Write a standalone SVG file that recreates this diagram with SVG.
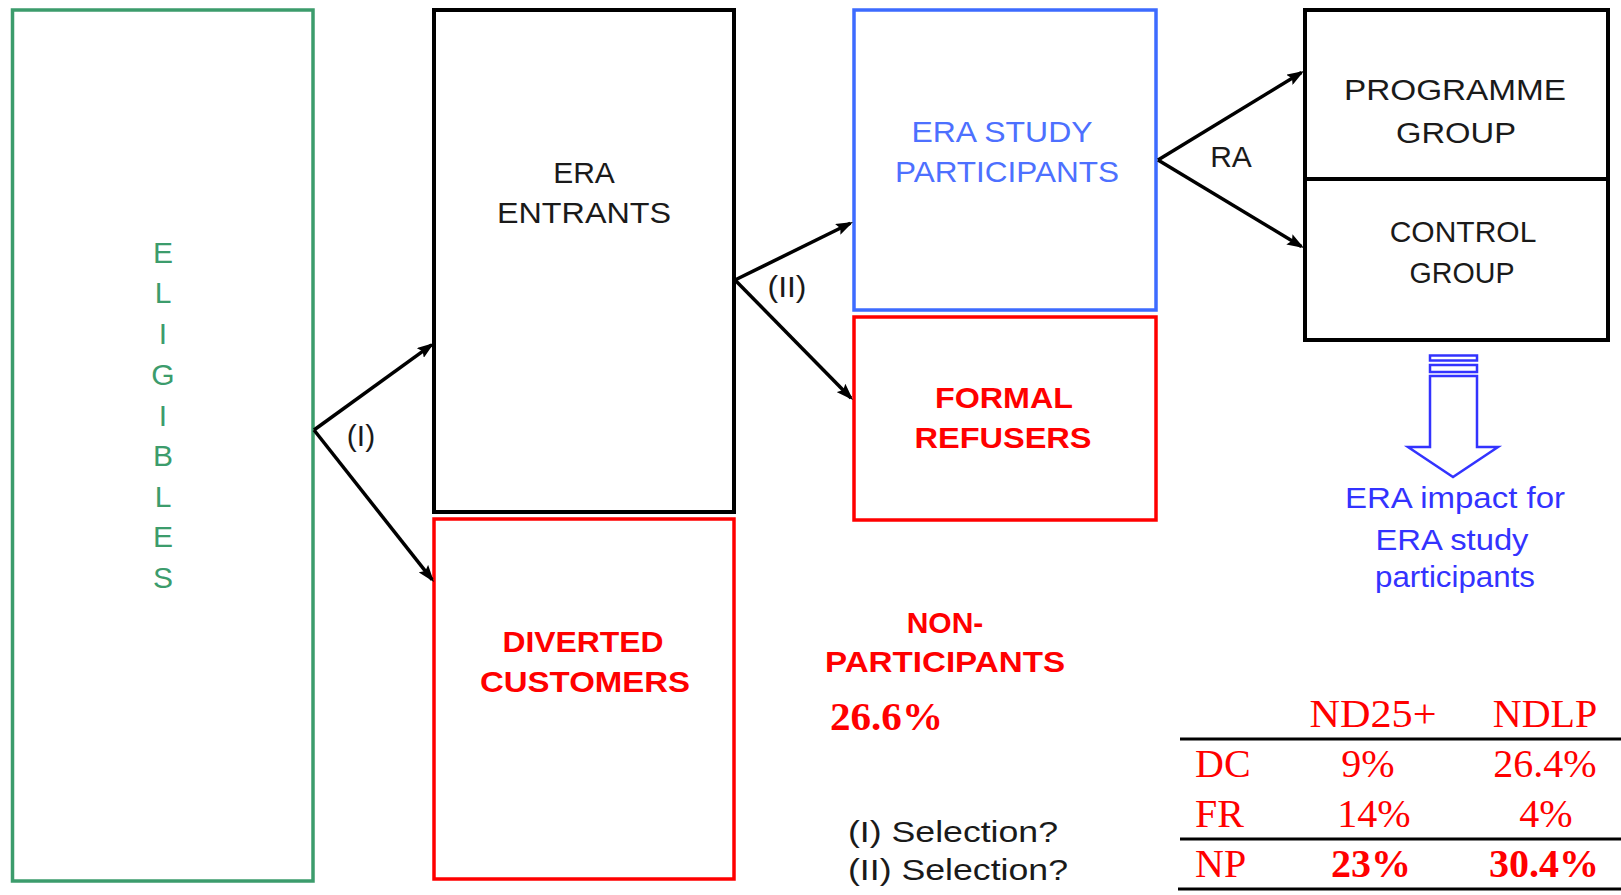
<svg xmlns="http://www.w3.org/2000/svg" width="1621" height="895" viewBox="0 0 1621 895">
<style>
.box{fill:#fff;stroke-width:3.5}
.blk{stroke:#000;stroke-width:4}
.red{stroke:#ff0000}
.grn{stroke:#3c9c6c}
.blu{stroke:#3d6bff}
.sans{font-family:"Liberation Sans",Arial,sans-serif;font-size:30px;text-anchor:middle}
.dark{fill:#1a1a1a}
.rt{fill:#ff0000;font-weight:bold}
.serif{font-family:"Liberation Serif","Times New Roman",serif;font-size:40px;fill:#ff0000}
.conn{stroke:#000;stroke-width:3.5;fill:none;marker-end:url(#ah)}
</style>
<defs>
<marker id="ah" viewBox="0 0 17 12" refX="14" refY="6" markerWidth="17" markerHeight="12" markerUnits="userSpaceOnUse" orient="auto">
<path d="M0,0 L17,6 L0,12 L3,6 Z" fill="#000"/>
</marker>
</defs>
<rect width="1621" height="895" fill="#fff"/>

<g id="eligibles">
<rect class="box grn" x="12.5" y="10" width="300.5" height="871"/>
<g class="sans" fill="#3c9c6c">
<text x="163" y="263">E</text>
<text x="163" y="303">L</text>
<text x="163" y="344">I</text>
<text x="163" y="385">G</text>
<text x="163" y="426">I</text>
<text x="163" y="466">B</text>
<text x="163" y="507">L</text>
<text x="163" y="547">E</text>
<text x="163" y="588">S</text>
</g>
</g>

<g id="era-entrants">
<rect class="box blk" x="434" y="10" width="300" height="502"/>
<text class="sans dark" x="584" y="183">ERA</text>
<text class="sans dark" x="584" y="223" textLength="174" lengthAdjust="spacingAndGlyphs">ENTRANTS</text>
</g>

<g id="diverted-customers">
<rect class="box red" x="434" y="519" width="300" height="360"/>
<text class="sans rt" x="583" y="652" textLength="161" lengthAdjust="spacingAndGlyphs">DIVERTED</text>
<text class="sans rt" x="585" y="692" textLength="210" lengthAdjust="spacingAndGlyphs">CUSTOMERS</text>
</g>

<g id="era-study-participants">
<rect class="box blu" x="854" y="10" width="302" height="300"/>
<text class="sans" fill="#4d70ff" x="1002" y="142" font-size="28" textLength="181" lengthAdjust="spacingAndGlyphs">ERA STUDY</text>
<text class="sans" fill="#4d70ff" x="1007" y="182" font-size="28" textLength="224" lengthAdjust="spacingAndGlyphs">PARTICIPANTS</text>
</g>

<g id="formal-refusers">
<rect class="box red" x="854" y="317" width="302" height="203"/>
<text class="sans rt" x="1004" y="408" textLength="138" lengthAdjust="spacingAndGlyphs">FORMAL</text>
<text class="sans rt" x="1003" y="448" textLength="177" lengthAdjust="spacingAndGlyphs">REFUSERS</text>
</g>

<g id="programme-group">
<rect class="box blk" x="1305" y="10" width="303" height="169"/>
<text class="sans dark" x="1455" y="100" textLength="222" lengthAdjust="spacingAndGlyphs">PROGRAMME</text>
<text class="sans dark" x="1456" y="143" textLength="120" lengthAdjust="spacingAndGlyphs">GROUP</text>
</g>

<g id="control-group">
<rect class="box blk" x="1305" y="179" width="303" height="161"/>
<text class="sans dark" x="1463" y="242">CONTROL</text>
<text class="sans dark" x="1462" y="283" textLength="105" lengthAdjust="spacingAndGlyphs">GROUP</text>
</g>

<g id="era-impact">
<g fill="#fff" stroke="#3333ff" stroke-width="2.5">
<rect x="1430" y="355.5" width="47" height="5"/>
<rect x="1430" y="365" width="47" height="7"/>
<path d="M1430,376 H1477 V447 H1498 L1453,477 L1408,447 H1430 Z"/>
</g>
<g class="sans" fill="#3333ff" font-size="26">
<text x="1455" y="508" textLength="220" lengthAdjust="spacingAndGlyphs">ERA impact  for</text>
<text x="1452" y="550" textLength="153" lengthAdjust="spacingAndGlyphs">ERA study</text>
<text x="1455" y="587" textLength="160" lengthAdjust="spacingAndGlyphs">participants</text>
</g>
</g>

<g id="connectors">
<path class="conn" d="M314,430 L431.6,344.8"/>
<path class="conn" d="M314,430 L432.1,579.6"/>
<path class="conn" d="M735,280 L850.3,223.3"/>
<path class="conn" d="M735,280 L850.9,397.9"/>
<path class="conn" d="M1158,160 L1301.4,72.6"/>
<path class="conn" d="M1158,160 L1301.4,246.5"/>
<text class="sans dark" x="361" y="446" font-size="28">(I)</text>
<text class="sans dark" x="787" y="297" font-size="28" textLength="39" lengthAdjust="spacingAndGlyphs">(II)</text>
<text class="sans dark" x="1231" y="167" font-size="29">RA</text>
</g>

<g id="non-participants">
<text class="sans rt" x="945" y="633">NON-</text>
<text class="sans rt" x="945" y="672" textLength="240" lengthAdjust="spacingAndGlyphs">PARTICIPANTS</text>
<text x="830" y="730" font-family="Liberation Serif,'Times New Roman',serif" font-weight="bold" font-size="41" fill="#ff0000" textLength="113" lengthAdjust="spacingAndGlyphs">26.6%</text>
</g>

<g id="notes" class="sans dark" font-size="28">
<text x="848" y="842" text-anchor="start" textLength="210" lengthAdjust="spacingAndGlyphs">(I) Selection?</text>
<text x="848" y="880" text-anchor="start" textLength="220" lengthAdjust="spacingAndGlyphs">(II) Selection?</text>
</g>

<g id="table">
<g stroke="#000" stroke-width="3">
<line x1="1180" y1="739" x2="1621" y2="739"/>
<line x1="1180" y1="839" x2="1621" y2="839"/>
<line x1="1178" y1="889" x2="1621" y2="889"/>
</g>
<g class="serif">
<text x="1373" y="727" text-anchor="middle" textLength="127" lengthAdjust="spacingAndGlyphs">ND25+</text>
<text x="1545" y="727" text-anchor="middle">NDLP</text>
<text x="1195" y="777">DC</text>
<text x="1368" y="777" text-anchor="middle">9%</text>
<text x="1545" y="777" text-anchor="middle">26.4%</text>
<text x="1195" y="827">FR</text>
<text x="1374" y="827" text-anchor="middle">14%</text>
<text x="1546" y="827" text-anchor="middle">4%</text>
<text x="1195" y="877">NP</text>
<text x="1371" y="877" text-anchor="middle" font-weight="bold">23%</text>
<text x="1544" y="877" text-anchor="middle" font-weight="bold">30.4%</text>
</g>
</g>
</svg>
